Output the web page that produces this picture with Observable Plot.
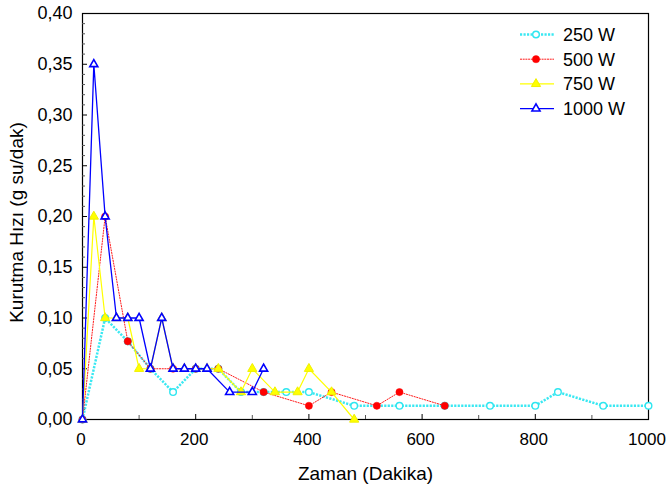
<!DOCTYPE html>
<html><head><meta charset="utf-8">
<script src="https://cdn.jsdelivr.net/npm/d3@7"></script>
<script src="https://cdn.jsdelivr.net/npm/@observablehq/plot@0.6"></script>
<style>body{margin:0;background:#fff;} #chart{width:666px;height:488px;}</style>
</head><body><div id="chart"></div>
<script>
// ---- data ----
const seriesNames = ["250 W", "500 W", "750 W", "1000 W"];
const t250 = [0, 40, 80, 120, 160, 200, 240, 280, 320, 360, 400, 480, 560, 640, 720, 800, 840, 920, 1000];
const v250 = [0, 0.10, 0.077, 0.05, 0.027, 0.05, 0.05, 0.027, 0.027, 0.027, 0.027, 0.0135, 0.0135, 0.0135, 0.0135, 0.0135, 0.027, 0.0135, 0.0135];
const t500 = [0, 40, 80, 120, 160, 200, 240, 320, 400, 440, 520, 560, 640];
const v500 = [0, 0.20, 0.077, 0.05, 0.05, 0.05, 0.05, 0.027, 0.0135, 0.027, 0.0135, 0.027, 0.0135];
const t750 = [0, 20, 40, 60, 80, 100, 120, 140, 160, 180, 200, 220, 240, 280, 300, 340, 380, 400, 440, 480];
const v750 = [0, 0.20, 0.10, 0.10, 0.10, 0.05, 0.05, 0.10, 0.05, 0.05, 0.05, 0.05, 0.05, 0.027, 0.05, 0.027, 0.027, 0.05, 0.027, 0.0];
const t1000 = [0, 20, 40, 60, 80, 100, 120, 140, 160, 180, 200, 220, 260, 300, 320];
const v1000 = [0, 0.35, 0.20, 0.10, 0.10, 0.10, 0.05, 0.10, 0.05, 0.05, 0.05, 0.05, 0.027, 0.027, 0.05];
const xTicks = [0, 200, 400, 600, 800, 1000];
const xMinorTicks = [100, 300, 500, 700, 900];
const yTicks = [0, 0.05, 0.10, 0.15, 0.20, 0.25, 0.30, 0.35, 0.40];
const yMinorTicks = [0.01,0.02,0.03,0.04,0.06,0.07,0.08,0.09,0.11,0.12,0.13,0.14,0.16,0.17,0.18,0.19,0.21,0.22,0.23,0.24,0.26,0.27,0.28,0.29,0.31,0.32,0.33,0.34,0.36,0.37,0.38,0.39];
const xTitle = "Zaman (Dakika)";
const yTitle = "Kurutma Hızı (g su/dak)";

// ---- styles ----
const styles = [
  {stroke: "#3ae8f2", strokeWidth: 2.5, dash: "2.2,1.3", symbol: "circle", r: 3.3, fill: "#fff", mstroke: "#2ee6f0", msw: 1.4},
  {stroke: "#ff1a1a", strokeWidth: 1, dash: "2,0.7", symbol: "circle", r: 3.6, fill: "#ff0000", mstroke: "#ff0000", msw: 0.5},
  {stroke: "#ffff00", strokeWidth: 1.2, dash: null, symbol: "triangle", r: 3.4, fill: "#ffff00", mstroke: "#f0f000", msw: 1},
  {stroke: "#0000ff", strokeWidth: 1.3, dash: null, symbol: "triangle", r: 3, fill: "#fff", mstroke: "#0000ff", msw: 1.6}
];
const times = [t250, t500, t750, t1000];
const vals = [v250, v500, v750, v1000];
const series = seriesNames.map((name, i) => times[i].map((t, j) => ({name, t, v: vals[i][j]})));

const font = "'Liberation Sans', Arial, sans-serif";
const comma = d => d.toFixed(2).replace(".", ",");

const marks = [
  Plot.frame({stroke: "#000", strokeWidth: 1.2}),
  Plot.axisX(xTicks, {tickSize: 0, tickPadding: 13, dx: -1.5, tickFormat: d => String(d), label: null, fontSize: 17}),
  Plot.axisX(xTicks, {tickSize: -5, tickFormat: () => "", label: null}),
  Plot.axisX(xMinorTicks, {tickSize: -4, tickFormat: () => "", label: null, stroke: "#555"}),
  Plot.axisY(yTicks, {tickSize: 0, tickPadding: 10, tickFormat: comma, label: null, fontSize: 18}),
  Plot.axisY(yTicks, {tickSize: -5, tickFormat: () => "", label: null}),
  Plot.axisY(yMinorTicks, {tickSize: -3, tickFormat: () => "", label: null, stroke: "#555"}),
  Plot.text([xTitle], {frameAnchor: "bottom", lineAnchor: "middle", textAnchor: "middle", dy: 54.5, fontSize: 19, text: d => d}),
  Plot.text([yTitle], {frameAnchor: "left", lineAnchor: "middle", textAnchor: "middle", dx: -66, dy: 6, rotate: -90, fontSize: 19, text: d => d})
];
series.forEach((data, i) => {
  const s = styles[i];
  marks.push(Plot.line(data, {x: "t", y: "v", stroke: s.stroke, strokeWidth: s.strokeWidth, strokeDasharray: s.dash, strokeLinecap: "butt", strokeLinejoin: "miter"}));
  marks.push(Plot.dot(data, {x: "t", y: "v", symbol: s.symbol, r: s.r, fill: s.fill, stroke: s.mstroke, strokeWidth: s.msw}));
});

const plot = Plot.plot({
  width: 666, height: 488,
  marginLeft: 82, marginRight: 18, marginTop: 13, marginBottom: 69,
  style: {fontFamily: font, fontSize: "18px", color: "#000", background: "#fff", overflow: "visible"},
  x: {domain: [0, 1000]},
  y: {domain: [0, 0.40]},
  marks
});
document.getElementById("chart").appendChild(plot);

// ---- legend (top right, inside frame) ----
const svg = d3.select(plot);
const lg = svg.append("g").attr("font-family", font).attr("font-size", 18).attr("text-anchor", "start");
seriesNames.forEach((name, i) => {
  const s = styles[i];
  const y = 34.5 + i * 24.7;
  const g = lg.append("g").attr("transform", `translate(0,${y})`);
  g.append("line").attr("x1", 520).attr("x2", 554).attr("y1", 0).attr("y2", 0)
    .attr("stroke", s.stroke).attr("stroke-width", s.strokeWidth).attr("stroke-dasharray", s.dash);
  const sym = s.symbol === "circle" ? d3.symbolCircle : d3.symbolTriangle;
  g.append("path").attr("transform", "translate(536,0)")
    .attr("d", d3.symbol(sym, Math.PI * s.r * s.r)())
    .attr("fill", s.fill).attr("stroke", s.mstroke).attr("stroke-width", s.msw);
  g.append("text").attr("x", 563).attr("y", 0).attr("dy", "0.35em").attr("fill", "#000").text(name);
});
</script>
</body></html>
